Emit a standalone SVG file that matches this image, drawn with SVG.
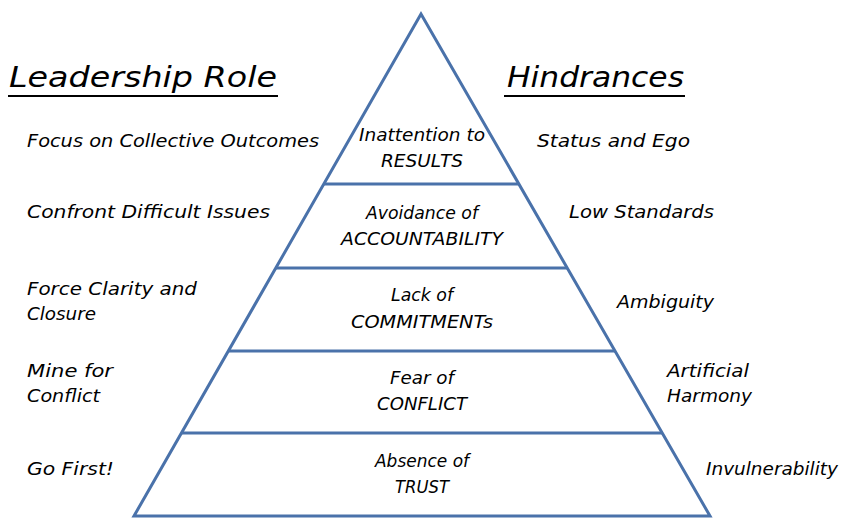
<svg xmlns="http://www.w3.org/2000/svg" width="843" height="530" viewBox="0 0 843 530">
<style>
text{font-family:"DejaVu Sans","Liberation Sans",sans-serif;font-style:italic;fill:#000;font-size:17px}
.t{font-size:29px}
.c{text-anchor:middle}
.ln{stroke:#4a72aa;stroke-width:3;fill:none}
.ul{stroke:#000;stroke-width:2}
</style>
<rect width="843" height="530" fill="#fff"/>
<g id="pyramid">
<polygon class="ln" points="421,14 710,516 134,516"/>
</g>
<g id="connectors">
<line class="ln" x1="324" y1="184" x2="519" y2="184"/>
<line class="ln" x1="276" y1="268" x2="567" y2="268"/>
<line class="ln" x1="228" y1="351" x2="615" y2="351"/>
<line class="ln" x1="181" y1="433" x2="662" y2="433"/>
</g>
<g id="titles">
<text class="t" x="9" y="87" textLength="268" lengthAdjust="spacingAndGlyphs">Leadership  Role</text>
<line class="ul" x1="8" y1="96" x2="278" y2="96"/>
<text class="t" x="507" y="87" textLength="177" lengthAdjust="spacingAndGlyphs">Hindrances</text>
<line class="ul" x1="504" y1="96" x2="685" y2="96"/>
</g>
<g id="level-results">
<text class="c" x="422" y="141" textLength="126" lengthAdjust="spacingAndGlyphs">Inattention to</text>
<text class="c" x="422" y="167" textLength="82" lengthAdjust="spacingAndGlyphs">RESULTS</text>
</g>
<g id="level-accountability">
<text class="c" x="422" y="219" textLength="112" lengthAdjust="spacingAndGlyphs">Avoidance of</text>
<text class="c" x="422" y="245" textLength="162" lengthAdjust="spacingAndGlyphs">ACCOUNTABILITY</text>
</g>
<g id="level-commitments">
<text class="c" x="422" y="301" textLength="62" lengthAdjust="spacingAndGlyphs">Lack of</text>
<text class="c" x="422" y="328" textLength="142" lengthAdjust="spacingAndGlyphs">COMMITMENTs</text>
</g>
<g id="level-conflict">
<text class="c" x="422" y="384" textLength="64" lengthAdjust="spacingAndGlyphs">Fear of</text>
<text class="c" x="422" y="410" textLength="90" lengthAdjust="spacingAndGlyphs">CONFLICT</text>
</g>
<g id="level-trust">
<text class="c" x="422" y="467" textLength="94" lengthAdjust="spacingAndGlyphs">Absence of</text>
<text class="c" x="422" y="493" textLength="54" lengthAdjust="spacingAndGlyphs">TRUST</text>
</g>
<g id="role-1"><text x="27" y="147" textLength="292" lengthAdjust="spacingAndGlyphs">Focus  on  Collective  Outcomes</text></g>
<g id="role-2"><text x="27" y="218" textLength="243" lengthAdjust="spacingAndGlyphs">Confront  Difficult  Issues</text></g>
<g id="role-3"><text x="27" y="295" textLength="170" lengthAdjust="spacingAndGlyphs">Force  Clarity  and</text><text x="27" y="320" textLength="69" lengthAdjust="spacingAndGlyphs">Closure</text></g>
<g id="role-4"><text x="27" y="377" textLength="86" lengthAdjust="spacingAndGlyphs">Mine  for</text><text x="27" y="402" textLength="73" lengthAdjust="spacingAndGlyphs">Conflict</text></g>
<g id="role-5"><text x="27" y="475" textLength="87" lengthAdjust="spacingAndGlyphs">Go  First!</text></g>
<g id="hind-1"><text x="537" y="147" textLength="153" lengthAdjust="spacingAndGlyphs">Status  and  Ego</text></g>
<g id="hind-2"><text x="569" y="218" textLength="145" lengthAdjust="spacingAndGlyphs">Low  Standards</text></g>
<g id="hind-3"><text x="617" y="308" textLength="97" lengthAdjust="spacingAndGlyphs">Ambiguity</text></g>
<g id="hind-4"><text x="667" y="377" textLength="82" lengthAdjust="spacingAndGlyphs">Artificial</text><text x="667" y="402" textLength="85" lengthAdjust="spacingAndGlyphs">Harmony</text></g>
<g id="hind-5"><text x="706" y="475" textLength="132" lengthAdjust="spacingAndGlyphs">Invulnerability</text></g>
</svg>
